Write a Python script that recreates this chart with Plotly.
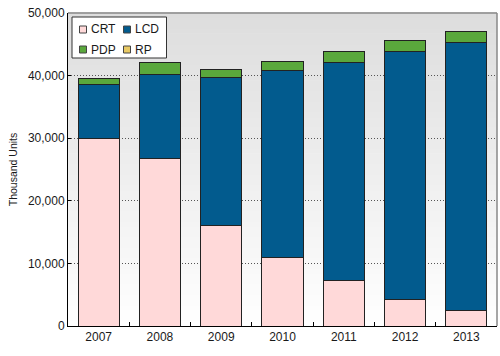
import plotly.graph_objects as go

# ---- data ----
years = ["2007", "2008", "2009", "2010", "2011", "2012", "2013"]
crt = [29900, 26700, 16100, 10900, 7300, 4300, 2400]
lcd = [8660, 13550, 23620, 29850, 34840, 39560, 42860]
pdp = [910, 1870, 1280, 1490, 1700, 1760, 1810]
rp = [0, 0, 0, 0, 0, 0, 0]
series_names = ["CRT", "LCD", "PDP", "RP"]
series_colors = ["#ffd9d9", "#025b8e", "#5aa83c", "#e8c964"]
y_title = "Thousand Units"

W, H = 500, 356
L, R, T, B = 68, 3, 13, 30
PW, PH = W - L - R, H - T - B

def px_x(p):
    return (p - L) / PW

def px_y(p):
    return (H - B - p) / PH

FONT = "Liberation Sans, Arial, sans-serif"

fig = go.Figure()
for name, vals, col in zip(series_names, [crt, lcd, pdp, rp], series_colors):
    fig.add_trace(go.Bar(
        x=years, y=vals, name=name, showlegend=False,
        marker=dict(color=col, line=dict(color="#222222", width=1 if name != "RP" else 0)),
    ))

shapes = []
# gradient background (top gray -> bottom white)
N = 60
for i in range(N):
    f0, f1 = i / N, (i + 1) / N
    t = (f0 + f1) / 2  # 0 bottom .. 1 top
    g = int(round(255 - (255 - 221) * t))
    shapes.append(dict(type="rect", xref="x domain", yref="y domain",
                       x0=0, x1=1, y0=f0, y1=f1 + 0.002, layer="below",
                       line=dict(width=0), fillcolor=f"rgb({g},{g},{g})"))
# gray top/right border
shapes.append(dict(type="line", xref="x domain", yref="y domain", x0=0, x1=1, y0=1, y1=1,
                   line=dict(color="#888888", width=1.5), layer="above"))
shapes.append(dict(type="line", xref="x domain", yref="y domain", x0=1, x1=1, y0=0, y1=1,
                   line=dict(color="#888888", width=1.5), layer="above"))

# manual legend box
shapes.append(dict(type="rect", xref="paper", yref="paper",
                   x0=px_x(72), x1=px_x(166.5), y0=px_y(58), y1=px_y(17),
                   fillcolor="white", line=dict(color="#333333", width=1), layer="above"))
annotations = []
legend_pos = [(79.5, 26), (123.5, 26), (79.5, 46), (123.5, 46)]
for (sx, sy), name, col in zip(legend_pos, series_names, series_colors):
    shapes.append(dict(type="rect", xref="paper", yref="paper",
                       x0=px_x(sx), x1=px_x(sx + 7), y0=px_y(sy + 7), y1=px_y(sy),
                       fillcolor=col, line=dict(color="#444444", width=1), layer="above"))
    annotations.append(dict(text=name, xref="paper", yref="paper",
                            x=px_x(sx + 9.5), y=px_y(sy + 3.5), xanchor="left", yanchor="middle",
                            showarrow=False, font=dict(family=FONT, size=12, color="#1a1a1a")))

fig.update_layout(
    width=W, height=H,
    margin=dict(l=L, r=R, t=T, b=B, pad=0, autoexpand=False),
    barmode="stack", bargap=0.33,
    paper_bgcolor="white", plot_bgcolor="white",
    font=dict(family=FONT, size=12, color="#222222"),
    shapes=shapes, annotations=annotations,
    showlegend=False,
)
fig.update_xaxes(
    type="category", showline=True, linecolor="#000000", linewidth=1,
    ticks="inside", tickson="boundaries", ticklen=4, tickcolor="#000000",
    showgrid=False, tickfont=dict(size=12, color="#1a1a1a"), automargin=False,
)
fig.update_yaxes(
    range=[0, 50000], dtick=10000, tickformat=",",
    showline=True, linecolor="#000000", linewidth=1,
    ticks="inside", ticklen=3, tickcolor="#000000",
    showgrid=True, gridcolor="#555555", griddash="1px,2px", gridwidth=1.3,
    zeroline=False, tickfont=dict(size=12, color="#1a1a1a"), automargin=False,
    title=dict(text=y_title, font=dict(size=10.5, color="#1a1a1a"), standoff=8),
)

fig.write_html("out.html", config={"displayModeBar": False},
               post_script="document.body.style.margin='0';document.body.style.overflow='hidden';")
